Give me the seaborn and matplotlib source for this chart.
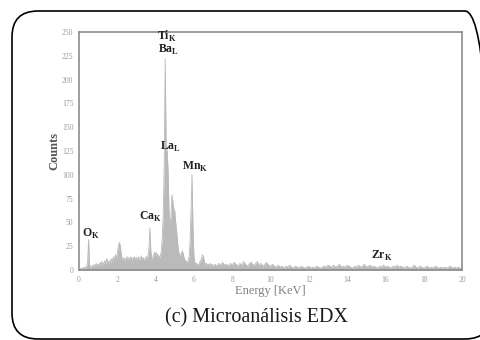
import numpy as np
import pandas as pd
import matplotlib
matplotlib.use("Agg")
import matplotlib.pyplot as plt
from matplotlib.patches import FancyBboxPatch
from matplotlib.transforms import IdentityTransform
import seaborn as sns

# EDX spectrum: energy (keV) and counts
energy_fine = [round(0.05 * i, 2) for i in range(141)]  # 0.00 .. 7.00 keV
counts_fine = [
    0, 1, 2, 1, 2, 3, 2, 3, 4, 8,
    32, 6, 2, 3, 5, 3, 6, 4, 7, 5,
    6, 4, 8, 5, 9, 6, 7, 10, 6, 12,
    9, 7, 10, 8, 12, 9, 14, 10, 16, 12,
    18, 24, 29, 26, 18, 12, 10, 13, 9, 12,
    14, 10, 13, 11, 14, 10, 13, 12, 14, 10,
    13, 11, 14, 10, 12, 15, 11, 13, 10, 12,
    14, 11, 15, 22, 44, 20, 12, 13, 16, 19,
    15, 18, 14, 16, 12, 15, 20, 35, 60, 110,
    222, 130, 125, 105, 62, 48, 55, 79, 72, 64,
    62, 50, 40, 28, 20, 14, 16, 18, 20, 16,
    12, 10, 9, 8, 10, 14, 30, 62, 100, 45,
    14, 8, 6, 7, 5, 6, 8, 10, 12, 16,
    14, 8, 6, 7, 5, 6, 5, 7, 5, 6,
    4,
]
energy_coarse = [round(7.0 + 0.1 * i, 2) for i in range(1, 131)]  # 7.1 .. 20.0 keV
counts_coarse = [
    6, 4, 7, 5, 8, 5, 6, 4, 7, 5,
    8, 6, 4, 7, 5, 9, 6, 4, 7, 8,
    5, 6, 9, 5, 7, 4, 6, 8, 5, 4,
    6, 4, 3, 5, 3, 4, 2, 4, 3, 5,
    3, 2, 4, 3, 2, 4, 3, 2, 3, 4,
    2, 3, 2, 4, 3, 2, 3, 4, 3, 5,
    4, 3, 5, 3, 4, 6, 3, 4, 3, 5,
    4, 3, 2, 4, 3, 5, 3, 4, 6, 3,
    4, 5, 3, 4, 3, 2, 4, 3, 5, 3,
    4, 3, 2, 4, 3, 5, 3, 4, 3, 2,
    4, 3, 2, 3, 5, 3, 2, 4, 3, 2,
    3, 4, 2, 3, 2, 4, 3, 2, 3, 2,
    3, 2, 3, 4, 2, 3, 2, 3, 2, 1,
]
energy = energy_fine + energy_coarse
counts = counts_fine + counts_coarse

# peak annotations: label, energy, counts
peak_labels = [r"$\mathbf{Ti}_\mathbf{K}$", r"$\mathbf{Ba}_\mathbf{L}$", r"$\mathbf{La}_\mathbf{L}$",
               r"$\mathbf{Mn}_\mathbf{K}$", r"$\mathbf{Ca}_\mathbf{K}$", r"$\mathbf{O}_\mathbf{K}$",
               r"$\mathbf{Zr}_\mathbf{K}$"]
peak_x = [4.58, 4.65, 4.8, 6.05, 3.71, 0.63, 15.8]
peak_y = [245, 231, 129, 108, 56, 38, 15]

x_ticks = [0, 2, 4, 6, 8, 10, 12, 14, 16, 18, 20]
y_ticks = [0, 25, 50, 75, 100, 125, 150, 175, 200, 225, 250]

sns.set_style("white")
plt.rcParams["font.family"] = ["Liberation Serif", "DejaVu Serif"]
plt.rcParams["mathtext.fontset"] = "custom"
plt.rcParams["mathtext.rm"] = "Liberation Serif:bold"
plt.rcParams["mathtext.bf"] = "Liberation Serif:bold"

df = pd.DataFrame({"Energy": energy, "Counts": counts})

fig = plt.figure(figsize=(4.81, 3.40), dpi=100)
ax = fig.add_axes([79 / 481, 1 - 270 / 340, 383 / 481, 238 / 340])

fill_col = "#bababa"
ax.fill_between(df["Energy"], 0, df["Counts"], color=fill_col, lw=0)
sns.lineplot(data=df, x="Energy", y="Counts", ax=ax, color=fill_col, lw=0.6)

ax.set_xlim(0, 20)
ax.set_ylim(0, 250)
ax.set_xticks(x_ticks)
ax.set_yticks(y_ticks)
ax.tick_params(axis="both", labelsize=5.5, colors="#9a9a9a", length=2, width=0.6, pad=2)
for sp in ax.spines.values():
    sp.set_color("#8c8c8c")
    sp.set_linewidth(1.2)

ax.set_xlabel("Energy [KeV]", fontsize=9, color="#808080", labelpad=1)
ax.set_ylabel("Counts", fontsize=9, color="#555555", fontweight="bold", labelpad=1)

for lab, px, py in zip(peak_labels, peak_x, peak_y):
    ax.text(px, py, lab, fontsize=8.5, color="#222222", ha="center", va="center")

fig.text(256 / 481, 1 - 318 / 340, "(c) Microanálisis EDX", fontsize=14.5,
         color="#1a1a1a", ha="center", va="center")

frame = FancyBboxPatch((12, 1), 479, 328, boxstyle="round,pad=0,rounding_size=26",
                       transform=IdentityTransform(), fill=False, edgecolor="black", lw=1.2)
fig.add_artist(frame)

fig.savefig("out.png", dpi=100)
